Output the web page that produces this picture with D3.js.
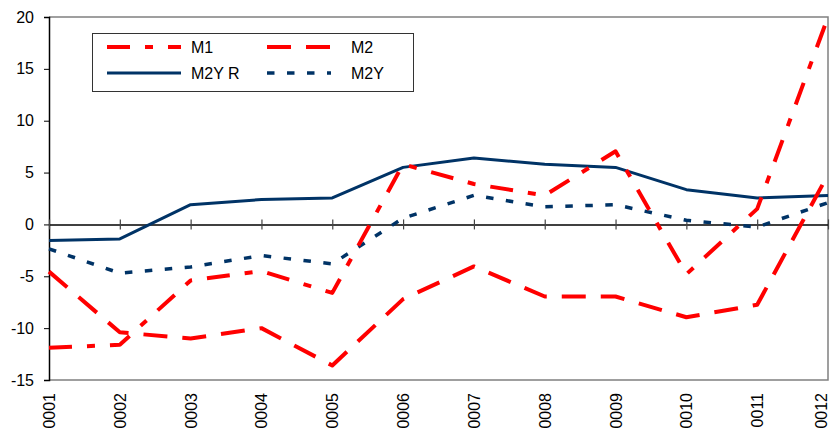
<!DOCTYPE html>
<html>
<head>
<meta charset="utf-8">
<script src="https://cdn.jsdelivr.net/npm/d3@7"></script>
<style>
  html, body { margin: 0; padding: 0; background: #fff; }
  svg { display: block; font-family: "Liberation Sans", Arial, sans-serif; }
</style>
</head>
<body>
<svg id="chart" width="832" height="433"></svg>
<script>
const categories = ["0001","0002","0003","0004","0005","0006","0007","0008","0009","0010","0011","0012"];
const m1   = [-11.9, -11.6, -5.4, -4.5, -6.6, 5.8, 3.9, 2.8, 7.05, -4.8, 1.5, 20.0];
const m2   = [-4.55, -10.4, -11.0, -10.0, -13.6, -7.2, -4.05, -6.95, -6.95, -8.95, -7.75, 4.8];
const m2yr = [-1.55, -1.4, 1.9, 2.4, 2.55, 5.5, 6.4, 5.8, 5.5, 3.35, 2.55, 2.8];
const m2y  = [-2.35, -4.7, -4.1, -3.0, -3.8, 0.6, 2.8, 1.7, 1.9, 0.4, -0.25, 2.1];
const yTicks = [20, 15, 10, 5, 0, -5, -10, -15];

const series = [
  { name: "M2YR", values: m2yr, color: "#003366", width: 3,   dash: null },
  { name: "M2Y",  values: m2y,  color: "#003366", width: 3.5, dash: "7.5,12.5" },
  { name: "M2",   values: m2,   color: "#FF0000", width: 4,   dash: "24,15" },
  { name: "M1",   values: m1,   color: "#FF0000", width: 4,   dash: "23,15,8,15" }
];

const svg = d3.select("#chart");
const pLeft = 49, pRight = 828, pTop = 17, pBottom = 380;

const x = d3.scalePoint().domain(categories).range([pLeft, pRight]);
const y = d3.scaleLinear().domain([-15, 20]).range([pBottom, pTop]);

// plot border (gray)
svg.append("path")
  .attr("d", `M${pLeft},${pTop}H${pRight}V${pBottom}H${pLeft}`)
  .attr("fill", "none").attr("stroke", "#808080").attr("stroke-width", 1.5);

// y axis
const yAxis = d3.axisLeft(y).tickValues(yTicks).tickSize(5).tickPadding(10)
  .tickFormat(d => d < 0 ? "-" + Math.abs(d) : d);
const gy = svg.append("g").attr("transform", `translate(${pLeft},0)`).call(yAxis);
gy.select(".domain").attr("stroke", "#000").attr("stroke-width", 1.5);
gy.selectAll(".tick line").attr("stroke", "#000");
gy.selectAll("text").attr("font-size", 16).attr("fill", "#000")
  .attr("font-family", "'Liberation Sans', Arial, sans-serif");

// zero line with category ticks
const gx = svg.append("g").attr("transform", `translate(0,${y(0)})`)
  .call(d3.axisBottom(x).tickSize(0).tickFormat(""));
gx.select(".domain").attr("stroke", "#000").attr("stroke-width", 1.5);
gx.selectAll(".tick").append("line")
  .attr("y1", -5).attr("y2", 5).attr("stroke", "#444").attr("stroke-width", 1.2);

// x labels (rotated) at bottom
svg.append("g").selectAll("text").data(categories).join("text")
  .attr("transform", d => `translate(${Math.min(x(d) + 6, 827)},${pBottom + 13}) rotate(-90)`)
  .attr("text-anchor", "end")
  .attr("font-size", 16).attr("fill", "#000")
  .text(d => d);

// lines
const line = d3.line().x((d, i) => x(categories[i])).y(d => y(d));
series.forEach(s => {
  svg.append("path")
    .datum(s.values)
    .attr("d", line)
    .attr("fill", "none")
    .attr("stroke", s.color)
    .attr("stroke-width", s.width)
    .attr("stroke-dasharray", s.dash)
    .attr("stroke-linejoin", "round");
});

// legend
const lg = svg.append("g");
lg.append("rect").attr("x", 92.5).attr("y", 33.5).attr("width", 321).attr("height", 58)
  .attr("fill", "#fff").attr("stroke", "#333").attr("stroke-width", 1);
const legendItems = [
  { s: series[3], label: ["M1"],      x1: 107, x2: 181, tx: 191, cy: 47 },
  { s: series[2], label: ["M2"],      x1: 267, x2: 331, tx: 351, cy: 47 },
  { s: series[0], label: ["M2Y","R"], x1: 107, x2: 181, tx: 191, cy: 73 },
  { s: series[1], label: ["M2Y"],     x1: 267, x2: 331, tx: 351, cy: 73 }
];
legendItems.forEach(it => {
  lg.append("line").attr("x1", it.x1).attr("x2", it.x2).attr("y1", it.cy).attr("y2", it.cy)
    .attr("stroke", it.s.color).attr("stroke-width", it.s.width)
    .attr("stroke-dasharray", it.s.dash);
  const t = lg.append("text").attr("x", it.tx).attr("y", it.cy + 6)
    .attr("font-size", 16).attr("fill", "#000");
  it.label.forEach((part, i) => {
    t.append("tspan").attr("dx", i > 0 ? 4 : 0).text(part);
  });
});
</script>
</body>
</html>
